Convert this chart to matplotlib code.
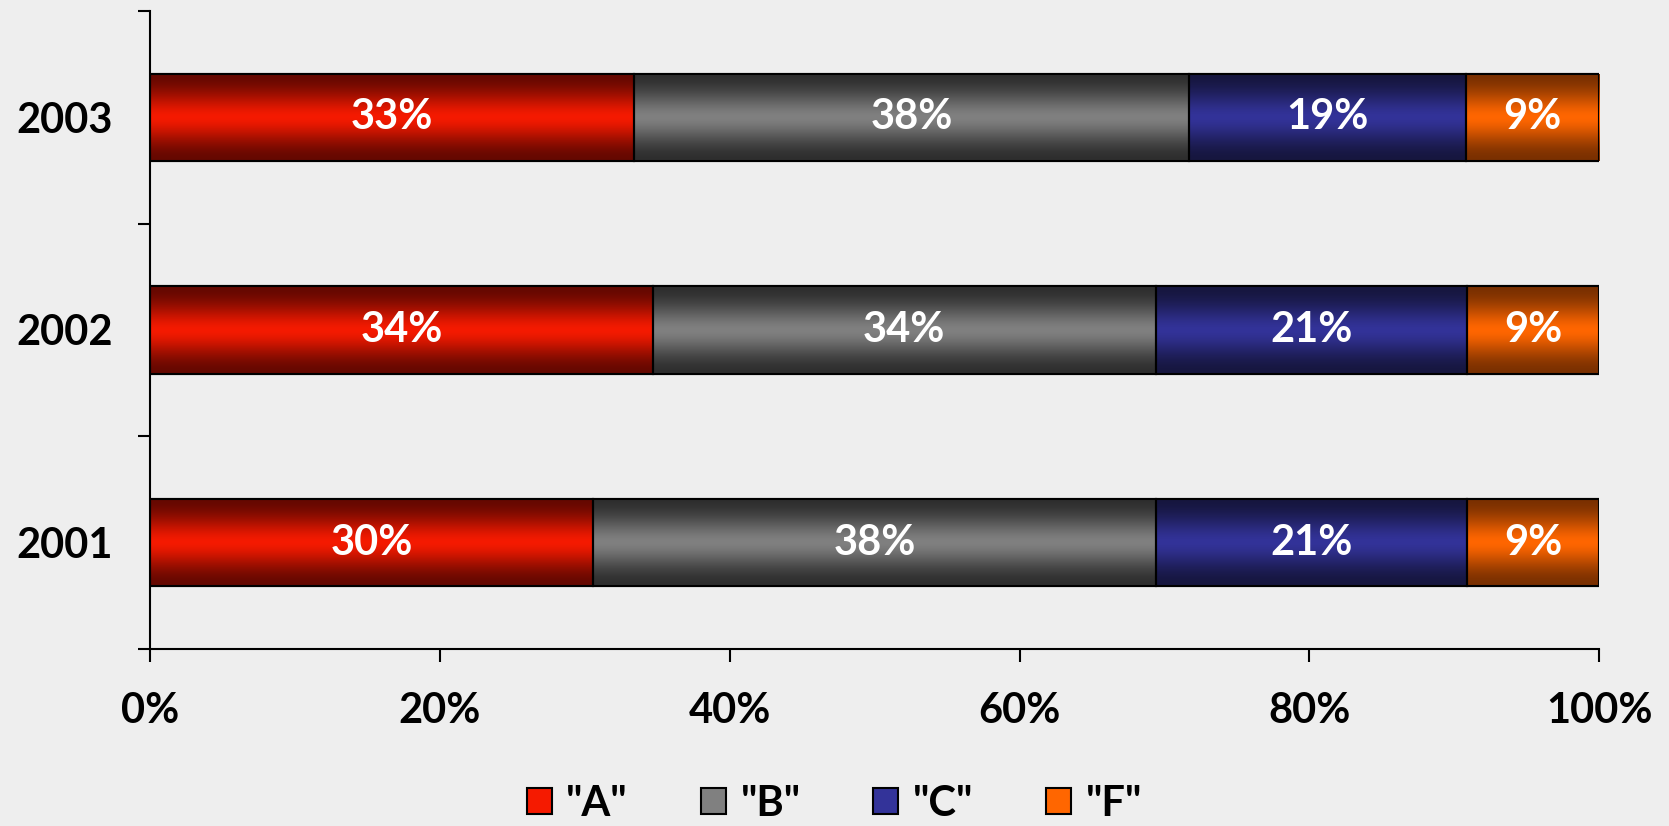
import numpy as np
import matplotlib.pyplot as plt
from matplotlib.colors import LinearSegmentedColormap
from matplotlib import font_manager

years = ['2001', '2002', '2003']
grades = ['"A"', '"B"', '"C"', '"F"']
# share per grade (percent), rows follow years
a_vals = [30.6, 34.7, 33.4]
b_vals = [38.8, 34.7, 38.3]
c_vals = [21.5, 21.5, 19.1]
f_vals = [9.1, 9.1, 9.2]
series = [a_vals, b_vals, c_vals, f_vals]
xticks = [0, 20, 40, 60, 80, 100]

mid_cols = ['#f51a00', '#808080', '#333399', '#ff6600']
dark_cols = ['#650800', '#2e2e2e', '#16163f', '#7a3000']

names = set(f.name for f in font_manager.fontManager.ttflist)
fam = [f for f in ['Liberation Sans Narrow', 'Lato'] if f in names] + ['DejaVu Sans']
plt.rcParams['font.family'] = fam
plt.rcParams['font.weight'] = 'bold'
fs = 30

bg = '#eeeeee'
fig = plt.figure(figsize=(16.69, 8.26), dpi=100, facecolor=bg)
ax = fig.add_axes([0.0899, 0.2143, 0.8683, 0.7724], facecolor=bg)

y = np.arange(len(years))
h = 0.41
left = np.zeros(len(years))
prof = np.linspace(0, 1, 200)
prof = np.abs(np.cos(prof * np.pi)) ** 1.6  # 1 at edges, 0 in middle
handles = []
for i, vals in enumerate(series):
    cmap = LinearSegmentedColormap.from_list('g%d' % i, [mid_cols[i], dark_cols[i]])
    bars = ax.barh(y, vals, height=h, left=left, color=mid_cols[i],
                   edgecolor='black', linewidth=1.5, label=grades[i], zorder=2)
    for b, v in zip(bars, vals):
        x0, y0 = b.get_x(), b.get_y()
        im = ax.imshow(prof[:, None], cmap=cmap, aspect='auto',
                       extent=[x0, x0 + b.get_width(), y0, y0 + b.get_height()],
                       zorder=2.5, interpolation='bilinear')
        im.set_clip_path(b)
        ax.add_patch(plt.Rectangle((x0, y0), b.get_width(), b.get_height(),
                                   fill=False, edgecolor='black', linewidth=1.5, zorder=3))
        ax.text(x0 + b.get_width() / 2, y0 + b.get_height() / 2, '%d%%' % int(v),
                ha='center', va='center', color='white', fontsize=fs,
                fontweight='bold', zorder=4)
    handles.append(bars)
    left = left + np.array(vals)

ax.set_xlim(0, 100)
ax.set_ylim(-0.5, 2.5)
ax.set_xticks(xticks)
ax.set_xticklabels(['%d%%' % t for t in xticks], fontsize=fs, fontweight='bold')
ax.set_yticks(y)
ax.set_yticklabels(years, fontsize=fs, fontweight='bold')
ax.set_yticks([-0.5, 0.5, 1.5, 2.5], minor=True)
ax.tick_params(axis='y', which='major', length=0, pad=27)
ax.tick_params(axis='y', which='minor', length=9, width=1.5, direction='out')
ax.tick_params(axis='x', which='major', length=9, width=1.5, direction='out', pad=22)
for s in ['top', 'right']:
    ax.spines[s].set_visible(False)
for s in ['left', 'bottom']:
    ax.spines[s].set_linewidth(1.5)

leg = fig.legend(handles=handles, labels=grades, loc='center', bbox_to_anchor=(0.5, 0.027),
                 ncol=4, frameon=False, fontsize=fs, handlelength=0.6, handleheight=0.6,
                 handletextpad=0.35, columnspacing=1.75)
for t in leg.get_texts():
    t.set_fontweight('bold')

fig.savefig('out.png', dpi=100, facecolor=bg)
